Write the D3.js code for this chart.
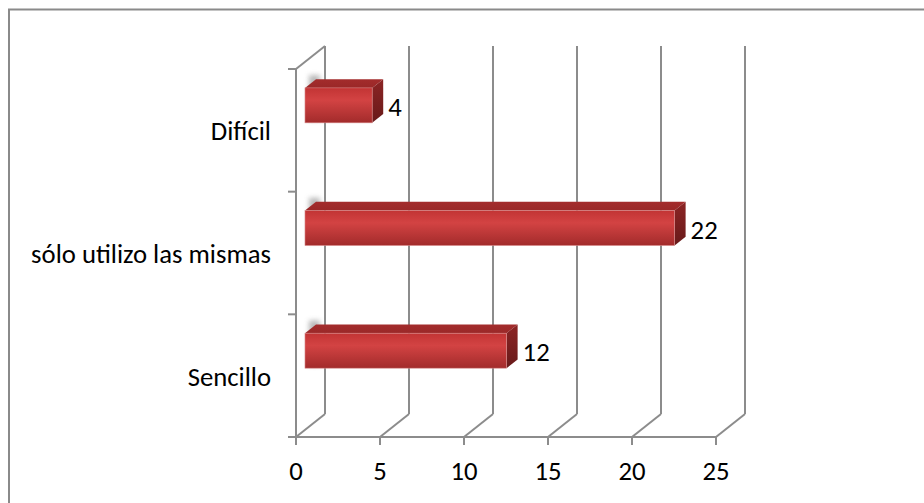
<!DOCTYPE html>
<html>
<head>
<meta charset="utf-8">
<script src="https://cdn.jsdelivr.net/npm/d3@7"></script>
<style>
  html, body { margin: 0; padding: 0; background: #fff; }
  svg { display: block; }
  text { font-family: Carlito, Calibri, Lato, sans-serif; fill: #000; }
</style>
</head>
<body>
<svg id="chart" width="924" height="503"></svg>
<script>
const categories = ["Difícil", "sólo utilizo las mismas", "Sencillo"];
const values = [4, 22, 12];
const tickValues = [0, 5, 10, 15, 20, 25];

const W = 924, H = 503;
const svg = d3.select("#chart");

// 3D depth offset (back plane relative to front plane)
const DX = 29, DY = -23;
const x = d3.scaleLinear().domain([0, 25]).range([296, 716]);
const y = d3.scaleBand().domain(categories).range([69, 437]).paddingInner(0).paddingOuter(0);
const proj = (v, yy, d) => [x(v) + d * DX, yy + d * DY];

// fonts: size so that the longest label matches reference width
const probe = svg.append("text").style("font-size", "100px").text(categories[1]);
const probeLen = probe.node().getComputedTextLength();
probe.remove();
const fs = Math.min(27, 100 * 240 / probeLen);

// border (top and left visible)
svg.append("path").attr("d", `M9,${H + 5} V9.5 H${W + 5}`)
  .attr("fill", "none").attr("stroke", "#8a8a8a").attr("stroke-width", 2);

const defs = svg.append("defs");
const gF = defs.append("linearGradient").attr("id", "gFront").attr("x1", 0).attr("y1", 0).attr("x2", 0).attr("y2", 1);
gF.append("stop").attr("offset", "0%").attr("stop-color", "#c23434");
gF.append("stop").attr("offset", "35%").attr("stop-color", "#d34343");
gF.append("stop").attr("offset", "100%").attr("stop-color", "#a22b2b");
const gT = defs.append("linearGradient").attr("id", "gTop").attr("x1", 0).attr("y1", 0).attr("x2", 0).attr("y2", 1);
gT.append("stop").attr("offset", "0%").attr("stop-color", "#a32c2c");
gT.append("stop").attr("offset", "100%").attr("stop-color", "#9a2828");
const gS = defs.append("linearGradient").attr("id", "gSide").attr("x1", 0).attr("y1", 0).attr("x2", 0).attr("y2", 1);
gS.append("stop").attr("offset", "0%").attr("stop-color", "#8c2424");
gS.append("stop").attr("offset", "100%").attr("stop-color", "#681a1a");
defs.append("filter").attr("id", "blur").attr("x", "-50%").attr("y", "-50%").attr("width", "200%").attr("height", "200%")
  .append("feGaussianBlur").attr("stdDeviation", 2.5);

const grid = svg.append("g").attr("stroke", "#8c8c8c").attr("stroke-width", 2).attr("fill", "none");
const yTop = y.range()[0], yBot = y.range()[1];

// back wall vertical gridlines + floor diagonals
tickValues.forEach(v => {
  const [bx, by] = proj(v, yBot, 1);
  const [tx, ty] = proj(v, yTop, 1);
  grid.append("line").attr("x1", bx).attr("y1", by).attr("x2", tx).attr("y2", ty);
  grid.append("line").attr("x1", x(v)).attr("y1", yBot).attr("x2", bx).attr("y2", by);
});
// left wall
const [ltx, lty] = proj(0, yTop, 1);
grid.append("line").attr("x1", x(0)).attr("y1", yTop).attr("x2", ltx).attr("y2", lty);
grid.append("line").attr("x1", x(0)).attr("y1", yTop).attr("x2", x(0)).attr("y2", yBot);
// category axis ticks
const catEdges = categories.map(c => y(c)).concat([yBot]);
catEdges.forEach(e => {
  grid.append("line").attr("x1", x(0) - 8).attr("y1", e).attr("x2", x(0)).attr("y2", e);
});
// value axis line + ticks
grid.append("line").attr("x1", x(0) - 8).attr("y1", yBot).attr("x2", x(25)).attr("y2", yBot);
tickValues.forEach(v => {
  grid.append("line").attr("x1", x(v)).attr("y1", yBot).attr("x2", x(v)).attr("y2", yBot + 8);
});

// tick labels
svg.append("g").selectAll("text").data(tickValues).join("text")
  .attr("x", d => x(d)).attr("y", 480).attr("text-anchor", "middle")
  .style("font-size", fs + "px").text(d => d);

// category labels
svg.append("g").selectAll("text").data(categories).join("text")
  .attr("x", 271).attr("y", d => y(d) + y.bandwidth() / 2 + 10).attr("text-anchor", "end")
  .style("font-size", fs + "px").text(d => d);

// bars
const F1 = 0.31, F2 = 0.69;
const bw = y.bandwidth();
const bars = svg.append("g");
categories.forEach((c, i) => {
  const v = values[i];
  const y0 = y(c) + bw * 0.212, y1 = y0 + bw * 0.285;
  const P = (vv, yy, d) => proj(vv, yy, d).join(",");
  const g = bars.append("g");
  // shadow on back
  const [sx, sy] = proj(0, y0, F2);
  g.append("rect").attr("x", sx - 7).attr("y", sy - 4).attr("width", 11).attr("height", y1 - y0 + 10)
    .attr("fill", "#a8a8a8").attr("opacity", 0.8).attr("filter", "url(#blur)");
  // top face
  g.append("polygon").attr("points", [P(0, y0, F1), P(v, y0, F1), P(v, y0, F2), P(0, y0, F2)].join(" "))
    .attr("fill", "url(#gTop)");
  // side face
  g.append("polygon").attr("points", [P(v, y0, F1), P(v, y0, F2), P(v, y1, F2), P(v, y1, F1)].join(" "))
    .attr("fill", "url(#gSide)");
  // front face
  const [fx0, fy0] = proj(0, y0, F1), [fx1, fy1] = proj(v, y1, F1);
  g.append("rect").attr("x", fx0).attr("y", fy0).attr("width", fx1 - fx0).attr("height", fy1 - fy0)
    .attr("fill", "url(#gFront)").attr("stroke", "#d98a8a").attr("stroke-width", 0.6);
  // value label
  const [lx] = proj(v, y0, F2);
  g.append("text").attr("x", lx + 5).attr("y", (fy0 + fy1) / 2 + 10.5)
    .style("font-size", fs + "px").text(v);
});
</script>
</body>
</html>
